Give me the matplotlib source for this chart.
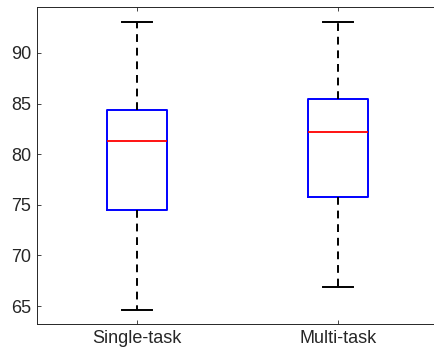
import matplotlib.pyplot as plt

plt.rcParams['font.family'] = ['Liberation Sans', 'DejaVu Sans']

# box plot summary per training mode
labels = ['Single-task', 'Multi-task']
whisker_low = [64.6, 66.9]
q1 = [74.5, 75.8]
medians = [81.3, 82.15]
q3 = [84.4, 85.4]
whisker_high = [93.0, 93.05]

stats = []
for i in range(len(labels)):
    stats.append({'label': labels[i], 'whislo': whisker_low[i], 'q1': q1[i],
                  'med': medians[i], 'q3': q3[i], 'whishi': whisker_high[i],
                  'fliers': []})

fig = plt.figure(figsize=(4.34, 3.57), dpi=100)
ax = fig.add_axes([0.0846, 0.0916, 0.9247, 0.888])

ax.bxp(stats, positions=[1, 2], widths=0.3, showfliers=False,
       boxprops=dict(color='blue', linewidth=1.4),
       medianprops=dict(color='red', linewidth=1.3),
       whiskerprops=dict(color='black', linewidth=1.4, linestyle=(0, (4, 3))),
       capprops=dict(color='black', linewidth=1.4),
       capwidths=0.15)

ax.set_xlim(0.5, 2.5)
ax.set_ylim(63.2, 94.5)
ax.set_yticks([65, 70, 75, 80, 85, 90])
ax.tick_params(direction='in', top=True, right=True, length=3, width=0.6,
               labelsize=13, colors='#262626', pad=4)
for s in ax.spines.values():
    s.set_color('#262626')
    s.set_linewidth(0.7)
# right edge of the box falls outside the canvas
ax.spines['right'].set_visible(False)

plt.savefig('out.png', dpi=100)
